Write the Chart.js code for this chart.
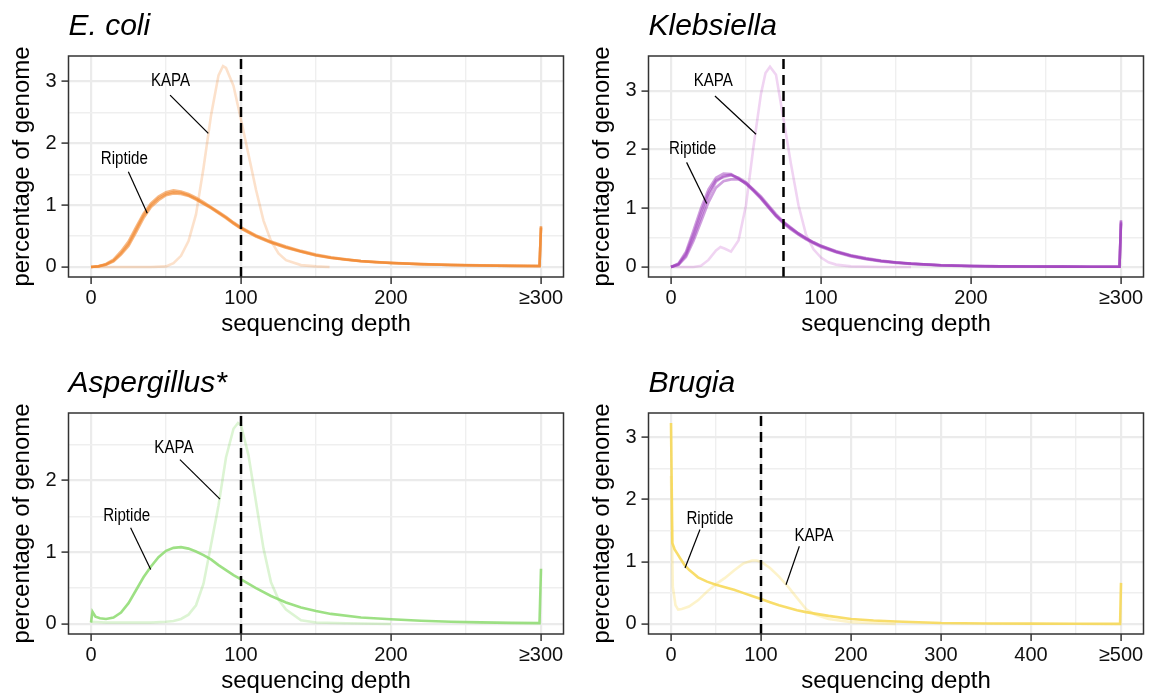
<!DOCTYPE html>
<html>
<head>
<meta charset="utf-8">
<script src="https://cdn.jsdelivr.net/npm/chart.js@4.4.1/dist/chart.umd.min.js"></script>
<style>
  body { margin: 0; background: #fff; }
  #wrap { position: relative; width: 1158px; height: 700px; overflow: hidden; }
  canvas { position: absolute; }
</style>
</head>
<body>
<div id="wrap">
  <canvas id="c1" width="578" height="343" style="left:0px;top:0px"></canvas>
  <canvas id="c2" width="578" height="343" style="left:580px;top:0px"></canvas>
  <canvas id="c3" width="578" height="343" style="left:0px;top:357px"></canvas>
  <canvas id="c4" width="578" height="343" style="left:580px;top:357px"></canvas>
</div>
<script>
// --- data ---

// E. coli
const ecoliRipX = [0,5,10,15,20,25,30,35,40,45,50,55,60,65,70,75,80,85,90,95,100,110,120,130,140,150,160,170,180,190,200,220,240,260,280,299,300];
const ecoliRipA = [0,0.01,0.04,0.1,0.22,0.37,0.6,0.83,1.0,1.11,1.18,1.21,1.2,1.16,1.1,1.03,0.96,0.88,0.8,0.71,0.63,0.5,0.4,0.32,0.25,0.19,0.15,0.12,0.095,0.078,0.065,0.045,0.032,0.024,0.018,0.015,0.65];
const ecoliRipB = [0,0.01,0.05,0.12,0.25,0.41,0.64,0.86,1.03,1.14,1.21,1.24,1.22,1.18,1.12,1.05,0.97,0.89,0.81,0.72,0.64,0.51,0.41,0.33,0.26,0.2,0.155,0.123,0.097,0.08,0.066,0.046,0.033,0.025,0.019,0.016,0.66];
const ecoliRipC = [0,0.01,0.035,0.09,0.2,0.34,0.56,0.79,0.97,1.08,1.16,1.19,1.18,1.15,1.09,1.02,0.95,0.87,0.79,0.7,0.62,0.49,0.39,0.31,0.245,0.185,0.145,0.117,0.093,0.076,0.064,0.044,0.031,0.023,0.017,0.014,0.63];
const ecoliKapaX = [0,10,20,30,40,50,55,60,65,70,75,80,85,88,90,95,100,105,110,115,120,125,130,140,150,159];
const ecoliKapaY = [0,0,0,0,0,0.01,0.06,0.18,0.42,0.85,1.6,2.45,3.1,3.25,3.22,2.93,2.38,1.82,1.25,0.75,0.42,0.22,0.11,0.03,0.01,0];

// Klebsiella
const klebRipX = [0,5,10,15,20,25,30,35,40,45,50,55,60,65,70,75,80,85,90,95,100,110,120,130,140,150,160,180,200,220,240,260,280,299,300];
const klebRipA = [0,0.04,0.2,0.5,0.85,1.2,1.45,1.55,1.57,1.5,1.42,1.3,1.18,1.03,0.88,0.75,0.65,0.56,0.48,0.41,0.35,0.26,0.19,0.14,0.1,0.075,0.055,0.028,0.015,0.01,0.007,0.005,0.004,0.004,0.78];
const klebRipB = [0,0.06,0.26,0.62,1.0,1.32,1.52,1.59,1.58,1.51,1.41,1.29,1.16,1.01,0.86,0.74,0.64,0.55,0.47,0.4,0.34,0.25,0.18,0.13,0.095,0.07,0.052,0.027,0.014,0.009,0.006,0.005,0.004,0.004,0.76];
const klebRipC = [0,0.035,0.17,0.44,0.77,1.1,1.35,1.46,1.49,1.49,1.43,1.32,1.2,1.05,0.9,0.77,0.67,0.57,0.49,0.42,0.36,0.27,0.2,0.15,0.11,0.08,0.058,0.03,0.016,0.01,0.007,0.005,0.004,0.004,0.74];
const klebRipD = [0,0.05,0.23,0.56,0.93,1.26,1.48,1.53,1.56,1.52,1.44,1.31,1.17,1.02,0.87,0.76,0.66,0.57,0.49,0.42,0.36,0.26,0.19,0.14,0.1,0.076,0.056,0.029,0.015,0.01,0.007,0.005,0.004,0.004,0.8];
const klebKapaX = [0,15,20,25,30,33,36,40,45,50,55,60,63,66,70,75,80,85,90,95,100,105,110,120,140,160];
const klebKapaY = [0,0,0.02,0.12,0.28,0.34,0.31,0.26,0.45,1.05,2.05,2.95,3.3,3.41,3.27,2.52,1.75,1.05,0.55,0.3,0.16,0.08,0.04,0.01,0,0];

// Aspergillus
const aspRipX = [0,1,3,6,10,15,20,25,30,35,40,45,50,55,60,65,70,75,80,85,90,95,100,110,120,130,140,150,160,180,200,220,240,260,280,299,300];
const aspRipY = [0.02,0.17,0.1,0.08,0.07,0.09,0.16,0.29,0.47,0.65,0.8,0.93,1.02,1.06,1.07,1.05,1.01,0.96,0.9,0.82,0.75,0.68,0.62,0.5,0.39,0.3,0.23,0.18,0.14,0.09,0.065,0.045,0.03,0.022,0.015,0.012,0.77];
const aspKapaX = [0,10,20,30,40,50,55,60,65,70,75,80,85,90,95,98,100,105,110,115,120,125,130,140,150,170,200];
const aspKapaY = [0.03,0.02,0.02,0.02,0.02,0.03,0.04,0.07,0.13,0.26,0.56,1.1,1.65,2.32,2.72,2.8,2.77,2.35,1.7,1.05,0.58,0.34,0.2,0.05,0.02,0.01,0];

// Brugia
const brugRipX = [0,1.5,4,7,10,15,20,25,30,40,50,60,70,80,90,100,110,120,130,140,150,175,200,225,250,300,350,400,450,499,500];
const brugRipY = [3.23,1.3,1.2,1.13,1.06,0.95,0.87,0.81,0.75,0.68,0.63,0.59,0.55,0.5,0.45,0.4,0.35,0.3,0.26,0.22,0.19,0.13,0.08,0.055,0.04,0.015,0.008,0.005,0.003,0.002,0.66];
const brugKapaX = [0,2,5,8,12,20,30,40,50,60,70,80,90,95,100,110,120,130,140,150,160,175,200,250];
const brugKapaY = [2.38,0.6,0.3,0.23,0.24,0.28,0.38,0.52,0.64,0.74,0.86,0.97,1.02,1.02,1.0,0.9,0.76,0.6,0.42,0.24,0.15,0.08,0.03,0];

// ticks (empty label = minor grid line)
const xTicks300 = [0,50,100,150,200,250,300];
const xLabels300 = ['0','','100','','200','','≥300'];
const xTicks500 = [0,50,100,150,200,250,300,350,400,450,500];
const xLabels500 = ['0','','100','','200','','300','','400','','≥500'];
const yTicks3 = [0,0.5,1,1.5,2,2.5,3];
const yLabels3 = ['0','','1','','2','','3'];
const yTicks2 = [0,0.5,1,1.5,2,2.5];
const yLabels2 = ['0','','1','','2',''];

const FONT = "'Liberation Sans', Arial, Helvetica, sans-serif";

function pts(xs, ys) {
  return xs.map((x, i) => ({ x: x, y: ys[i] }));
}

function line(data, color, width, order) {
  return { data: data, borderColor: color, borderWidth: width, pointRadius: 0, fill: false, tension: 0, order: order };
}

// panel border + text labels with leader lines
function frame(notes) {
  return {
    id: 'frame',
    afterDatasetsDraw(chart) {
      const { ctx, chartArea: a, scales } = chart;
      const px = v => scales.x.getPixelForValue(v);
      const py = v => scales.y.getPixelForValue(v);
      ctx.save();
      notes.forEach(n => {
        ctx.strokeStyle = '#000';
        ctx.lineWidth = 1.2;
        ctx.beginPath();
        ctx.moveTo(px(n.from[0]), py(n.from[1]));
        ctx.lineTo(px(n.to[0]), py(n.to[1]));
        ctx.stroke();
        // condensed look: squeeze the text horizontally
        ctx.save();
        ctx.translate(px(n.at[0]), py(n.at[1]));
        ctx.scale(0.84, 1);
        ctx.fillStyle = '#000';
        ctx.font = '18px ' + FONT;
        ctx.textAlign = 'center';
        ctx.textBaseline = 'middle';
        ctx.fillText(n.text, 0, 0);
        ctx.restore();
      });
      ctx.strokeStyle = '#333';
      ctx.lineWidth = 1.5;
      ctx.strokeRect(a.left, a.top, a.right - a.left, a.bottom - a.top);
      ctx.restore();
    }
  };
}

function scale(ticks, labels, min, max, title, isX) {
  return {
    type: 'linear',
    min: min,
    max: max,
    afterBuildTicks: s => { s.ticks = ticks.map(v => ({ value: v })); },
    afterFit: s => { if (isX) s.height = 66; else s.width = 68.5; },
    ticks: {
      autoSkip: false, maxRotation: 0, padding: isX ? 2 : 5,
      color: '#111', font: { family: FONT, size: 20 },
      callback: (v, i) => labels[i]
    },
    grid: {
      color: c => labels[c.index] ? '#ebebeb' : '#efefef',
      lineWidth: c => labels[c.index] ? 2.2 : 1.4,
      tickColor: c => labels[c.index] ? '#333' : 'rgba(0,0,0,0)',
      tickLength: 7,
      tickWidth: 1.5
    },
    border: { display: false },
    title: {
      display: true, text: title, color: '#000',
      font: { family: FONT, size: 24 },
      padding: isX ? { top: 0, bottom: 4 } : { top: 8, bottom: 0 }
    }
  };
}

function panel(id, p) {
  const datasets = [
    line([{ x: p.vline, y: p.y[0] }, { x: p.vline, y: p.y[1] }], '#000', 2.5, 0)
  ];
  datasets[0].borderDash = [10, 6];
  p.rip.forEach(r => datasets.push(line(r, p.ripColor, 2.6, 1)));
  datasets.push(line(p.kapa, p.kapaColor, 2.6, 2));

  new Chart(document.getElementById(id), {
    type: 'line',
    data: { datasets: datasets },
    options: {
      responsive: false,
      animation: false,
      events: [],
      layout: { padding: { left: 0, right: 14.5, top: 0, bottom: 0 } },
      plugins: {
        legend: { display: false },
        tooltip: { enabled: false },
        title: {
          display: true, text: p.name, align: 'start', fullSize: false, color: '#000',
          font: { family: FONT, size: 30, style: 'italic', weight: 'normal', lineHeight: 1.2 },
          padding: { top: 9, bottom: 11 }
        }
      },
      scales: {
        x: scale(p.xt, p.xl, p.x[0], p.x[1], 'sequencing depth', true),
        y: scale(p.yt, p.yl, p.y[0], p.y[1], 'percentage of genome', false)
      }
    },
    plugins: [frame(p.notes)]
  });
}

panel('c1', {
  name: 'E. coli', vline: 100,
  x: [-15, 315], y: [-0.1625, 3.4125], xt: xTicks300, xl: xLabels300, yt: yTicks3, yl: yLabels3,
  rip: [pts(ecoliRipX, ecoliRipA), pts(ecoliRipX, ecoliRipB), pts(ecoliRipX, ecoliRipC)],
  ripColor: 'rgba(242,137,48,0.6)',
  kapa: pts(ecoliKapaX, ecoliKapaY), kapaColor: 'rgba(242,137,48,0.25)',
  notes: [
    { text: 'KAPA', at: [53, 3.0], from: [52.7, 2.78], to: [78.2, 2.16] },
    { text: 'Riptide', at: [22.2, 1.74], from: [24.9, 1.54], to: [37.5, 0.87] }
  ]
});

panel('c2', {
  name: 'Klebsiella', vline: 75,
  x: [-15, 315], y: [-0.171, 3.591], xt: xTicks300, xl: xLabels300, yt: yTicks3, yl: yLabels3,
  rip: [pts(klebRipX, klebRipA), pts(klebRipX, klebRipB), pts(klebRipX, klebRipC), pts(klebRipX, klebRipD)],
  ripColor: 'rgba(160,64,190,0.5)',
  kapa: pts(klebKapaX, klebKapaY), kapaColor: 'rgba(200,100,210,0.28)',
  notes: [
    { text: 'KAPA', at: [28.2, 3.17], from: [29.3, 2.91], to: [56.7, 2.26] },
    { text: 'Riptide', at: [14.4, 2.01], from: [10.4, 1.78], to: [23.8, 1.08] }
  ]
});

panel('c3', {
  name: 'Aspergillus*', vline: 100,
  x: [-15, 315], y: [-0.14, 2.94], xt: xTicks300, xl: xLabels300, yt: yTicks2, yl: yLabels2,
  rip: [pts(aspRipX, aspRipY)],
  ripColor: 'rgba(140,218,110,0.85)',
  kapa: pts(aspKapaX, aspKapaY), kapaColor: 'rgba(140,218,110,0.3)',
  notes: [
    { text: 'KAPA', at: [55.3, 2.45], from: [59.3, 2.29], to: [86, 1.74] },
    { text: 'Riptide', at: [23.8, 1.5], from: [26.4, 1.34], to: [39.8, 0.76] }
  ]
});

panel('c4', {
  name: 'Brugia', vline: 100,
  x: [-25, 525], y: [-0.1615, 3.3915], xt: xTicks500, xl: xLabels500, yt: yTicks3, yl: yLabels3,
  rip: [pts(brugRipX, brugRipY)],
  ripColor: 'rgba(247,215,80,0.85)',
  kapa: pts(brugKapaX, brugKapaY), kapaColor: 'rgba(247,215,80,0.3)',
  notes: [
    { text: 'Riptide', at: [43.3, 1.68], from: [32.2, 1.52], to: [15.6, 0.9] },
    { text: 'KAPA', at: [158.9, 1.41], from: [142.6, 1.25], to: [127.8, 0.63] }
  ]
});
</script>
</body>
</html>
